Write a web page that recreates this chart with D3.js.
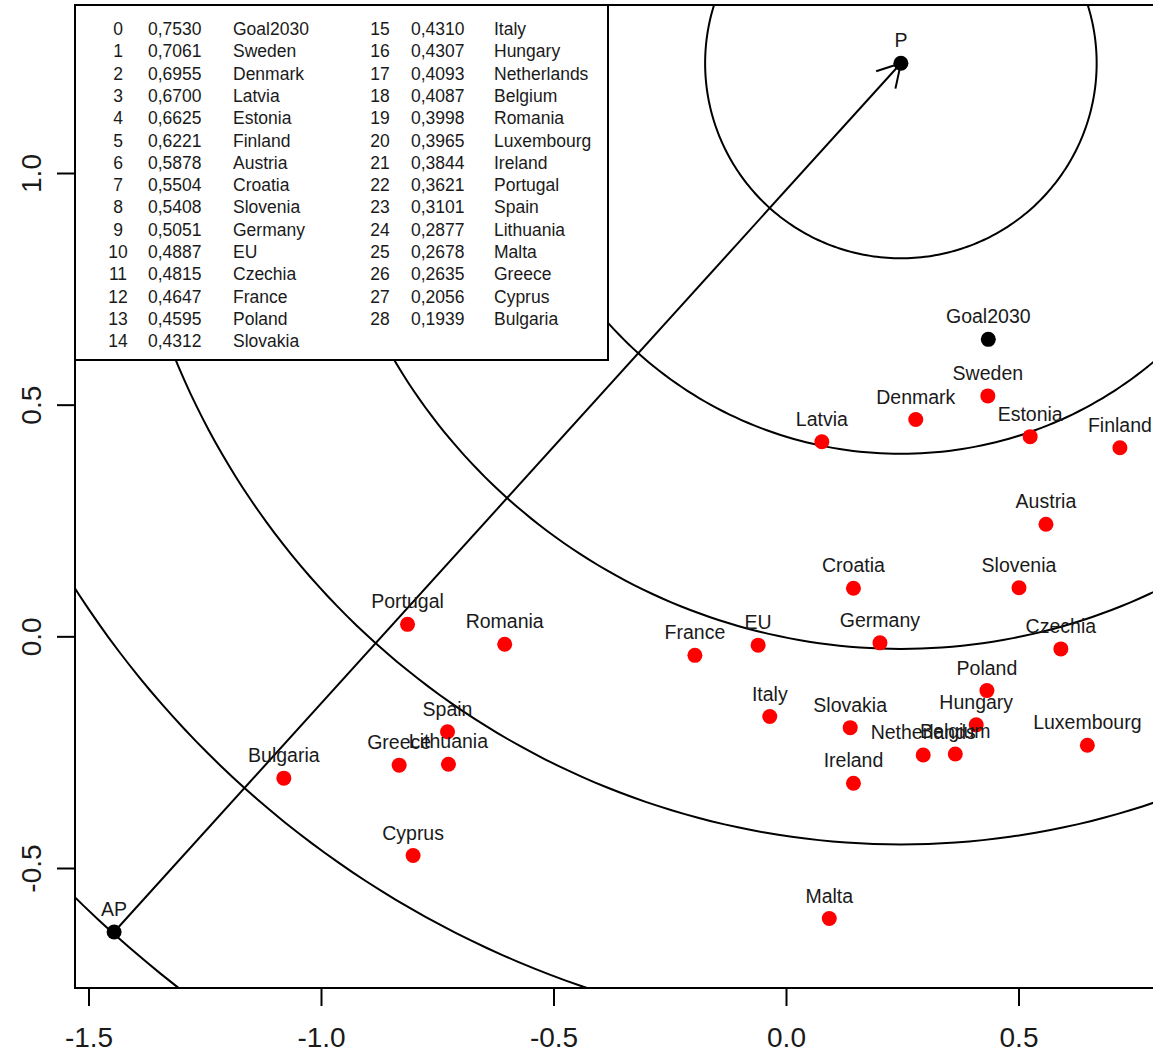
<!DOCTYPE html>
<html>
<head>
<meta charset="utf-8">
<script src="https://cdn.jsdelivr.net/npm/d3@7"></script>
<style>
  body { margin: 0; background: #fff; }
  svg { display: block; font-family: "Liberation Sans", Arial, sans-serif; }
</style>
</head>
<body>
<div id="chart"></div>
<script>
// ranking (legend) - same order is used for the points
const names = ['Goal2030', 'Sweden', 'Denmark', 'Latvia', 'Estonia', 'Finland', 'Austria', 'Croatia',
  'Slovenia', 'Germany', 'EU', 'Czechia', 'France', 'Poland', 'Slovakia', 'Italy', 'Hungary',
  'Netherlands', 'Belgium', 'Romania', 'Luxembourg', 'Ireland', 'Portugal', 'Spain', 'Lithuania',
  'Malta', 'Greece', 'Cyprus', 'Bulgaria'];
const scores = ['0,7530', '0,7061', '0,6955', '0,6700', '0,6625', '0,6221', '0,5878', '0,5504',
  '0,5408', '0,5051', '0,4887', '0,4815', '0,4647', '0,4595', '0,4312', '0,4310', '0,4307',
  '0,4093', '0,4087', '0,3998', '0,3965', '0,3844', '0,3621', '0,3101', '0,2877',
  '0,2678', '0,2635', '0,2056', '0,1939'];

// coordinates
const xs = [0.434, 0.433, 0.278, 0.076, 0.524, 0.717, 0.558, 0.144,
  0.500, 0.201, -0.061, 0.590, -0.197, 0.431, 0.137, -0.036, 0.408,
  0.294, 0.363, -0.606, 0.647, 0.144, -0.815, -0.729, -0.727,
  0.092, -0.833, -0.803, -1.081];
const ys = [0.642, 0.520, 0.469, 0.421, 0.432, 0.408, 0.243, 0.105,
  0.106, -0.013, -0.018, -0.026, -0.040, -0.116, -0.196, -0.172, -0.190,
  -0.255, -0.253, -0.016, -0.234, -0.316, 0.027, -0.205, -0.275,
  -0.608, -0.277, -0.472, -0.305];

// ideal (P) and anti-ideal (AP) points
const refNames = ['P', 'AP'];
const refX = [0.246, -1.446];
const refY = [1.238, -0.637];

// distance circles around P
const radii = [0.421, 0.843, 1.264, 1.686, 2.107, 2.529];

const xTicks = [-1.5, -1.0, -0.5, 0.0, 0.5];
const yTicks = [-0.5, 0.0, 0.5, 1.0];

const width = 1153, height = 1054;
const plot = {left: 75, top: 5, right: 1175, bottom: 988};

let svg = d3.select('#chart').append('svg')
  .attr('width', width)
  .attr('height', height);

let x = d3.scaleLinear().domain([-1.5, 0.5]).range([89, 1019]);
let y = d3.scaleLinear().domain([-0.5, 1.0]).range([868.5, 173.5]);

svg.append('clipPath').attr('id', 'clip')
  .append('rect')
  .attr('x', plot.left).attr('y', plot.top)
  .attr('width', plot.right - plot.left).attr('height', plot.bottom - plot.top);

let g = svg.append('g').attr('clip-path', 'url(#clip)');

// circles drawn in data space so they follow the scales
let angles = d3.range(0, 361, 1).map(a => a * Math.PI / 180);
let line = d3.line().x(d => x(d[0])).y(d => y(d[1]));

g.selectAll('path.ring')
  .data(radii)
  .enter()
  .append('path')
  .attr('class', 'ring')
  .attr('d', r => line(angles.map(t => [refX[0] + r * Math.cos(t), refY[0] + r * Math.sin(t)])))
  .attr('fill', 'none')
  .attr('stroke', '#000')
  .attr('stroke-width', 2);

// arrow AP -> P
let x0 = x(refX[1]), y0 = y(refY[1]), x1 = x(refX[0]), y1 = y(refY[0]);
g.append('line')
  .attr('x1', x0).attr('y1', y0).attr('x2', x1).attr('y2', y1)
  .attr('stroke', '#000').attr('stroke-width', 2);

let ang = Math.atan2(y0 - y1, x0 - x1);
[-Math.PI / 6, Math.PI / 6].forEach(a => {
  g.append('line')
    .attr('x1', x1).attr('y1', y1)
    .attr('x2', x1 + 26 * Math.cos(ang + a))
    .attr('y2', y1 + 26 * Math.sin(ang + a))
    .attr('stroke', '#000').attr('stroke-width', 2);
});

// points
let pts = names.map((n, i) => ({name: n, x: xs[i], y: ys[i], col: i === 0 ? '#000' : '#ff0000'}));
refNames.forEach((n, i) => pts.push({name: n, x: refX[i], y: refY[i], col: '#000'}));

g.selectAll('circle.pt')
  .data(pts)
  .enter()
  .append('circle')
  .attr('class', 'pt')
  .attr('cx', d => x(d.x))
  .attr('cy', d => y(d.y))
  .attr('r', 7.5)
  .attr('fill', d => d.col);

g.selectAll('text.lab')
  .data(pts)
  .enter()
  .append('text')
  .attr('class', 'lab')
  .attr('x', d => x(d.x))
  .attr('y', d => y(d.y) - 16)
  .attr('text-anchor', 'middle')
  .attr('font-size', '19.5px')
  .attr('fill', '#1a1a1a')
  .text(d => d.name);

// frame
svg.append('rect')
  .attr('x', plot.left).attr('y', plot.top)
  .attr('width', plot.right - plot.left).attr('height', plot.bottom - plot.top)
  .attr('fill', 'none').attr('stroke', '#000').attr('stroke-width', 2);

// axes (R style: ticks outside, labels big)
let xAxis = svg.append('g');
xTicks.forEach(t => {
  xAxis.append('line')
    .attr('x1', x(t)).attr('x2', x(t)).attr('y1', plot.bottom).attr('y2', plot.bottom + 18)
    .attr('stroke', '#000').attr('stroke-width', 2);
  xAxis.append('text')
    .attr('x', x(t)).attr('y', 1047)
    .attr('text-anchor', 'middle')
    .attr('font-size', '28px')
    .attr('fill', '#1a1a1a')
    .text(d3.format('.1f')(t).replace('−', '-'));
});

let yAxis = svg.append('g');
yTicks.forEach(t => {
  yAxis.append('line')
    .attr('x1', plot.left - 18).attr('x2', plot.left).attr('y1', y(t)).attr('y2', y(t))
    .attr('stroke', '#000').attr('stroke-width', 2);
  yAxis.append('text')
    .attr('transform', `translate(41,${y(t)}) rotate(-90)`)
    .attr('text-anchor', 'middle')
    .attr('font-size', '28px')
    .attr('fill', '#1a1a1a')
    .text(d3.format('.1f')(t).replace('−', '-'));
});

// legend box, top left corner of the plot
let leg = svg.append('g');
leg.append('rect')
  .attr('x', plot.left).attr('y', plot.top)
  .attr('width', 608 - plot.left).attr('height', 360 - plot.top)
  .attr('fill', '#fff').attr('stroke', '#000').attr('stroke-width', 2);

let perCol = 15;
let cols = [{idx: 118, val: 148, name: 233}, {idx: 380, val: 411, name: 494}];
names.forEach((n, i) => {
  let c = cols[Math.floor(i / perCol)];
  let yy = 35 + (i % perCol) * 22.3;
  let row = leg.append('g').attr('font-size', '17.5px').attr('fill', '#1a1a1a');
  row.append('text').attr('x', c.idx).attr('y', yy).attr('text-anchor', 'middle').text(i);
  row.append('text').attr('x', c.val).attr('y', yy).text(scores[i]);
  row.append('text').attr('x', c.name).attr('y', yy).text(n);
});
</script>
</body>
</html>
